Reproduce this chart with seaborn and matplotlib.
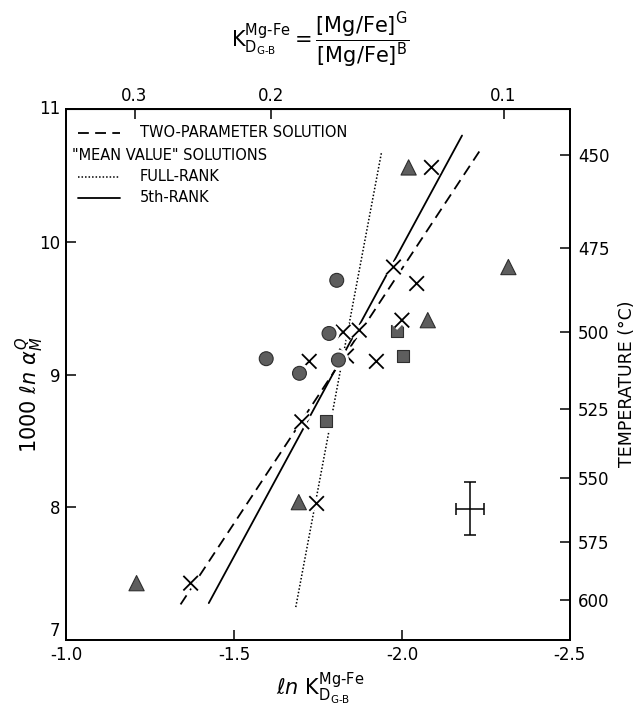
import numpy as np
import pandas as pd
import seaborn as sns
import matplotlib
matplotlib.use('Agg')
import matplotlib.pyplot as plt
import matplotlib.patheffects as pe

# points (x = ln K_D, y = 1000 ln alpha)
circle_x = [-1.596, -1.695, -1.783, -1.811, -1.806]
circle_y = [9.12, 9.01, 9.31, 9.11, 9.71]
square_x = [-1.695, -1.774, -1.985, -2.004]
square_y = [9.01, 8.65, 9.33, 9.14]
tri_x = [-1.210, -1.693, -2.077, -2.020, -2.317]
tri_y = [7.43, 8.04, 9.41, 10.56, 9.81]
cross_x = [-1.371, -1.746, -1.702, -1.724, -1.825, -1.873, -1.835, -1.924,
           -2.000, -1.975, -2.044, -2.088]
cross_y = [7.43, 8.03, 8.645, 9.10, 9.32, 9.335, 9.14, 9.10,
           9.41, 9.81, 9.686, 10.56]

# regression lines (end points)
two_param_x = [-1.341, -2.233]
two_param_y = [7.27, 10.69]
full_rank_x = [-1.684, -1.939]
full_rank_y = [7.25, 10.67]
fifth_rank_x = [-1.425, -2.179]
fifth_rank_y = [7.28, 10.80]

# typical error
err_x, err_y = -2.202, 7.99
err_dx, err_dy = 0.042, 0.20

# axes ticks
x_ticks = [-1.0, -1.5, -2.0, -2.5]
y_ticks = [7, 8, 9, 10, 11]
kd_ticks = [0.3, 0.2, 0.1]
temps = [450, 475, 500, 525, 550, 575, 600]

sns.set_style('ticks')
plt.rcParams['font.family'] = ['DejaVu Sans']
plt.rcParams['mathtext.fontset'] = 'dejavusans'
for key in ['text.color', 'axes.labelcolor', 'xtick.color', 'ytick.color',
            'axes.edgecolor']:
    plt.rcParams[key] = 'black'

fig = plt.figure(figsize=(6.41, 7.17), dpi=100)
ax = fig.add_axes([0.103, 0.107, 0.786, 0.741])

halo = [pe.Stroke(linewidth=5, foreground='white'), pe.Normal()]

sns.lineplot(x=two_param_x, y=two_param_y, ax=ax, color='black', lw=1.3,
             linestyle=(0, (6, 3.5)), sort=False, zorder=1)
sns.lineplot(x=full_rank_x, y=full_rank_y, ax=ax, color='black', lw=1.1,
             linestyle=(0, (1, 1.3)), sort=False, zorder=1)
sns.lineplot(x=fifth_rank_x, y=fifth_rank_y, ax=ax, color='black', lw=1.3,
             sort=False, zorder=1)

fill = '#5e5e5e'
edge = '#2e2e2e'
sns.scatterplot(x=square_x, y=square_y, ax=ax, marker='s', s=75, color=fill,
                edgecolor=edge, linewidth=0.8, zorder=3)
ax.collections[-1].set_path_effects(halo)
sns.scatterplot(x=circle_x, y=circle_y, ax=ax, marker='o', s=100, color=fill,
                edgecolor=edge, linewidth=0.8, zorder=4)
ax.collections[-1].set_path_effects(halo)
sns.scatterplot(x=tri_x, y=tri_y, ax=ax, marker='^', s=120, color=fill,
                edgecolor=edge, linewidth=0.8, zorder=3)
ax.collections[-1].set_path_effects(halo)
sns.scatterplot(x=cross_x, y=cross_y, ax=ax, marker='x', s=110, color='black',
                linewidth=1.3, zorder=3)
ax.collections[-1].set_path_effects(halo)

ax.errorbar(err_x, err_y, xerr=err_dx, yerr=err_dy, color='black', lw=1.1,
            capsize=4, capthick=1.1)

# hand-drawn legend, top left
ax.plot([0.024, 0.107], [0.955, 0.955], transform=ax.transAxes, color='black',
        lw=1.3, linestyle=(0, (6, 3.5)))
ax.plot([0.024, 0.107], [0.872, 0.872], transform=ax.transAxes, color='black',
        lw=1.1, linestyle=(0, (1, 1.3)))
ax.plot([0.024, 0.107], [0.833, 0.833], transform=ax.transAxes, color='black',
        lw=1.3)
ax.text(0.147, 0.955, 'TWO-PARAMETER SOLUTION', transform=ax.transAxes,
        va='center', fontsize=10.5)
ax.text(0.012, 0.913, '"MEAN VALUE" SOLUTIONS', transform=ax.transAxes,
        va='center', fontsize=10.5)
ax.text(0.147, 0.872, 'FULL-RANK', transform=ax.transAxes, va='center',
        fontsize=10.5)
ax.text(0.147, 0.833, '5th-RANK', transform=ax.transAxes, va='center',
        fontsize=10.5)

ax.set_xlim(-1.0, -2.5)
ax.set_ylim(7, 11)
ax.set_xticks(x_ticks)
ax.set_xticklabels(['-1.0', '-1.5', '-2.0', '-2.5'])
ax.set_yticks(y_ticks)
ax.set_yticklabels([str(v) for v in y_ticks])
ax.tick_params(direction='in', length=7, width=1.1, labelsize=12, pad=4)
ax.get_yticklabels()[0].set_verticalalignment('bottom')
ax.get_yticklabels()[-1].set_verticalalignment('center')
for sp in ax.spines.values():
    sp.set_linewidth(1.3)
ax.set_xlabel('')
ax.set_ylabel('')

# top axis: K_D itself
sec = ax.secondary_xaxis('top', functions=(np.exp, np.log))
sec.set_xticks(kd_ticks)
sec.set_xticklabels(['0.3', '0.2', '0.1'])
sec.tick_params(direction='in', length=7, width=1.1, labelsize=12, pad=3)

# right axis: temperature, 1000 ln a = 5.57e6 / T^2
ax2 = ax.twinx()
ax2.set_ylim(7, 11)
ax2.set_yticks([5.57e6 / (t + 273.15) ** 2 for t in temps])
ax2.set_yticklabels([str(t) for t in temps])
ax2.tick_params(direction='in', length=7, width=1.1, labelsize=12, pad=6)
for sp in ax2.spines.values():
    sp.set_linewidth(1.3)

fig.text(0.047, 0.45, r'1000 $\ell n\ \alpha^{Q}_{M}$', rotation=90,
         ha='center', va='center', fontsize=15)
fig.text(0.978, 0.465, 'TEMPERATURE (°C)', rotation=90, ha='center',
         va='center', fontsize=12.5)
fig.text(0.5, 0.04, r'$\ell n\ \mathrm{K}_{\mathrm{D}_{\text{G-B}}}^{\text{Mg-Fe}}$',
         ha='center', va='center', fontsize=15)
fig.text(0.5, 0.944,
         r'$\mathrm{K}_{\mathrm{D}_{\text{G-B}}}^{\text{Mg-Fe}} = '
         r'\dfrac{[\text{Mg/Fe}]^{\text{G}}}{[\text{Mg/Fe}]^{\text{B}}}$',
         ha='center', va='center', fontsize=15)

fig.savefig('out.png', dpi=100)
